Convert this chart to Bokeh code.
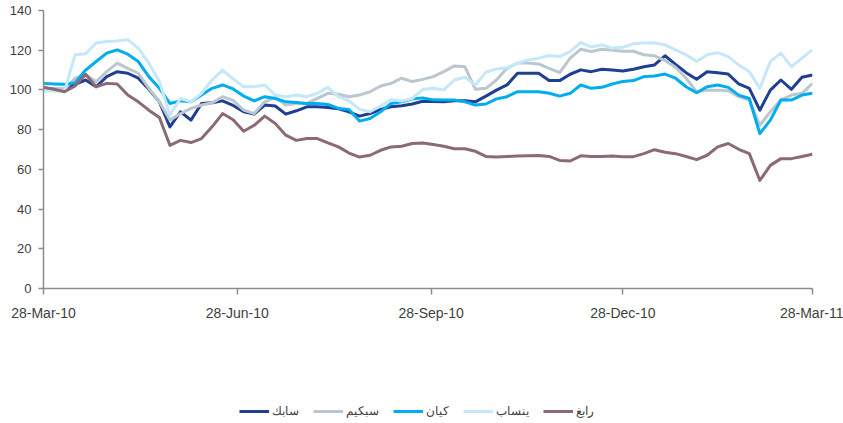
import pandas as pd
from bokeh.plotting import figure
from bokeh.layouts import column
from bokeh.models import Range1d, FixedTicker, DatetimeTickFormatter, Legend, LegendItem
from bokeh.embed import file_html
from bokeh.resources import INLINE

# sampling dates (every 5 days from 28-Mar-10 to 28-Mar-11)
dates = pd.date_range("2010-03-28", "2011-03-28", freq="5D")
tick_dates = ["2010-03-28", "2010-06-28", "2010-09-28", "2010-12-28", "2011-03-28"]

series_names = ["سابك", "سبكيم", "كيان", "ينساب", "رابغ"]

sabic = [100.8, 100.4, 100.4, 102.8, 105, 101.6, 106.7, 109.2, 108.4, 105.9,
         100.3, 94, 81.4, 89, 84.8, 93.2, 93.5, 94.5, 92.2, 89,
         87.8, 92.4, 91.9, 87.8, 89.5, 91.5, 91.5, 91.2, 90.5, 89,
         86.8, 88.1, 90.2, 91.5, 92, 92.9, 94.3, 94.2, 94, 94.5,
         94.5, 94, 96.9, 99.9, 102.5, 108.4, 108.4, 108.4, 104.7, 104.7,
         107.9, 110.1, 109.2, 110.4, 110, 109.5, 110.4, 111.7, 112.6, 117.2,
         112.9, 108.7, 105.4, 109.2, 108.7, 108, 103, 100.8, 89.8, 99.9,
         105, 100.3, 106.4, 107.5]

sipchem = [100.3, 100.3, 100.3, 105.9, 107.5, 104.2, 109.2, 113.5, 110.9, 108.4,
           100.8, 94, 84.8, 88.1, 90.7, 92.4, 93.5, 96.6, 94.7, 89.8,
           88.1, 94, 96.2, 92.4, 93.2, 93.2, 95.7, 98.3, 97.8, 96.6,
           97.4, 99.1, 102, 103.3, 105.9, 104.2, 105.3, 106.7, 109.2, 112.1,
           111.7, 100.3, 100.8, 105, 110.9, 113.5, 113.5, 113.1, 110.9, 108.7,
           116, 120.5, 119.3, 120.5, 120, 119.5, 119.5, 117.7, 117.2, 114.8,
           111.4, 105.9, 99.1, 99.9, 99.9, 99.6, 96.6, 94.9, 82.2, 89,
           94.9, 97.4, 98.3, 103.3]

kayan = [103.3, 103, 102.8, 103.6, 110, 114.3, 118.5, 120.2, 118, 114.3,
         106.7, 100.8, 93.2, 94.5, 94, 97.4, 100.8, 102.5, 100.5, 96.9,
         94.5, 96.6, 95.7, 94, 93.7, 93.2, 93.2, 92.7, 90.7, 90.2,
         84.3, 85.6, 89, 93.2, 94, 95.4, 96, 95, 94.9, 94.9,
         94, 92.4, 92.9, 95.5, 96.6, 99.1, 99.1, 99.1, 98.3, 96.9,
         98.3, 102.5, 100.8, 101.3, 103, 104.3, 104.7, 106.7, 107, 108,
         105.9, 101.6, 98.6, 101.6, 102.5, 101.3, 97.4, 95.7, 78, 84.8,
         94.9, 94.9, 97.4, 98.3]

yansab = [99.4, 99.4, 99.4, 117.7, 118.2, 123.6, 124.4, 124.7, 125.3, 121,
          113.5, 104.2, 87.3, 95.7, 94, 98.3, 105, 110, 105.5, 101.6,
          101.6, 102.5, 97.4, 96.6, 97.4, 96.6, 98.3, 101.3, 96.6, 94.5,
          90.2, 89, 91.9, 95.2, 94.4, 95.7, 100.2, 100.8, 100, 105,
          106.4, 102.5, 108.9, 110.6, 111.2, 113.5, 115.1, 116, 117.3, 116.8,
          119.3, 123.9, 121.6, 122.7, 121, 121.5, 123.2, 123.6, 123.6, 122.7,
          120.2, 117.7, 114.3, 117.7, 118.8, 116.8, 112.6, 109.2, 100.8, 114.3,
          118.5, 111.7, 116, 120.2]

rabigh = [101.3, 100.3, 99.1, 102, 107.9, 101.6, 103.3, 103, 97.4, 94,
          89.8, 86.1, 72.1, 74.6, 73.5, 75.5, 81.4, 88.1, 85, 79.2,
          82.2, 86.8, 83.1, 77.2, 74.6, 75.5, 75.5, 73.3, 71.3, 68.2,
          66.2, 67.1, 69.6, 71.3, 71.6, 73, 73.3, 72.5, 71.6, 70.4,
          70.4, 69.1, 66.5, 66.2, 66.5, 66.7, 66.8, 67, 66.5, 64.5,
          64.2, 66.8, 66.5, 66.5, 66.7, 66.4, 66.4, 67.9, 69.9, 68.6,
          67.9, 66.5, 64.9, 67.1, 71.3, 73, 70.1, 67.9, 54.4, 62,
          65.4, 65.4, 66.5, 67.6]

series_values = [sabic, sipchem, kayan, yansab, rabigh]
colors = ["#1f3f93", "#bac7cf", "#00adee", "#c5e8f8", "#8c6a75"]

MAIN_H = 335
p = figure(width=843, height=MAIN_H, output_backend="svg", toolbar_location=None,
           x_axis_type="datetime",
           x_range=Range1d(pd.Timestamp("2010-03-28"), pd.Timestamp("2011-03-28")),
           y_range=Range1d(0, 140),
           min_border_left=43, min_border_right=31, min_border_top=10,
           min_border_bottom=MAIN_H - 288)
p.outline_line_color = None
p.xgrid.visible = False
p.ygrid.visible = False

for vals, col in zip(series_values, colors):
    p.line(dates, vals, line_color=col, line_width=3, line_join="round")

axis_color = "#8c8c8c"
label_color = "#404040"

p.yaxis.ticker = FixedTicker(ticks=[0, 20, 40, 60, 80, 100, 120, 140])
p.yaxis.axis_line_color = axis_color
p.yaxis.axis_line_width = 1.5
p.yaxis.major_tick_line_color = axis_color
p.yaxis.major_tick_line_width = 1.5
p.yaxis.major_tick_out = 5
p.yaxis.major_tick_in = 0
p.yaxis.minor_tick_line_color = None
p.yaxis.major_label_standoff = 7
p.yaxis.major_label_text_font = "Liberation Sans"
p.yaxis.major_label_text_font_size = "13px"
p.yaxis.major_label_text_color = label_color

tick_ms = [pd.Timestamp(d).value // 10**6 for d in tick_dates]
p.xaxis.ticker = FixedTicker(ticks=tick_ms)
fmt = "%d-%b-%y"
p.xaxis.formatter = DatetimeTickFormatter(days=fmt, months=fmt, years=fmt, hours=fmt,
                                          minutes=fmt, seconds=fmt, milliseconds=fmt,
                                          microseconds=fmt, hourmin=fmt, minsec=fmt,
                                          context=None)
p.xaxis.axis_line_color = axis_color
p.xaxis.axis_line_width = 1.5
p.xaxis.major_tick_line_color = axis_color
p.xaxis.major_tick_line_width = 1.5
p.xaxis.major_tick_out = 6
p.xaxis.major_tick_in = 0
p.xaxis.minor_tick_line_color = None
p.xaxis.major_label_standoff = 10
p.xaxis.major_label_text_font = "Liberation Sans"
p.xaxis.major_label_text_font_size = "14px"
p.xaxis.major_label_text_color = label_color

# legend strip below the chart
LEG_H = 423 - MAIN_H
lp = figure(width=843, height=LEG_H, output_backend="svg", toolbar_location=None,
            x_axis_type=None, y_axis_type=None,
            x_range=Range1d(0, 1), y_range=Range1d(0, 1),
            min_border=0, min_border_left=0, min_border_right=0,
            min_border_top=0, min_border_bottom=0)
lp.outline_line_color = None
lp.xgrid.visible = False
lp.ygrid.visible = False

nan = float("nan")
items = []
for name, col in zip(series_names, colors):
    r = lp.line(x=[nan, nan], y=[nan, nan], line_color=col, line_width=3)
    items.append(LegendItem(label=name, renderers=[r]))

legend = Legend(items=items, orientation="horizontal", location=(196, 5),
                glyph_width=30, glyph_height=12, label_standoff=3, spacing=14,
                padding=0, margin=0, border_line_color=None, background_fill_alpha=0,
                label_text_font="Liberation Sans", label_text_font_size="12px",
                label_text_color=label_color)
lp.add_layout(legend)

layout = column(p, lp, spacing=0)
open("out.html", "w").write(file_html(layout, INLINE))
